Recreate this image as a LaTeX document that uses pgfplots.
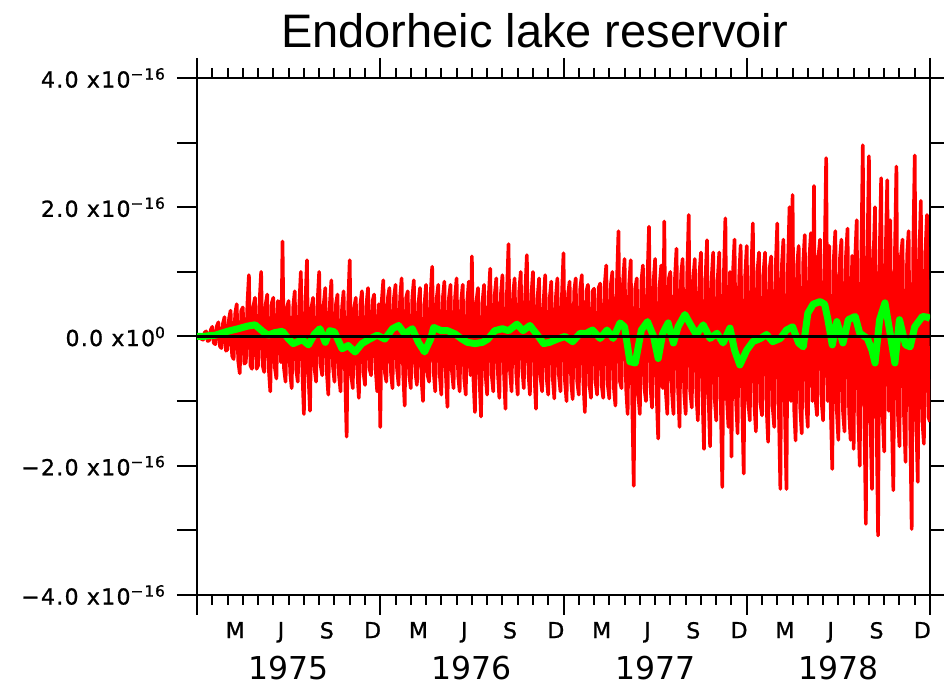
\documentclass[border=0pt]{standalone}
\usepackage{pgfplots}
\pgfplotsset{compat=1.18}
\usepackage{fontspec}
\setmainfont{Liberation Sans}
\newfontfamily\dejavu{DejaVu Sans}
\newfontfamily\dejavutick[LetterSpace=6,FakeBold=1]{DejaVu Sans}
\definecolor{pred}{RGB}{255,0,0}
\definecolor{pgreen}{RGB}{0,255,0}

\pgfplotstableread{
x y
0.0 0
0.1 -0.03
0.2 0.03
0.3 -0.04
0.4 -0.05
0.5 0.06
0.6 0.08
0.7 -0.07
0.8 -0.06
0.9 0.1
1.0 0.15
1.1 -0.1
1.2 -0.12
1.3 0.16
1.4 0.22
1.5 -0.15
1.6 -0.18
1.7 0.2
1.8 0.3
1.9 -0.22
2.0 -0.2
2.1 0.28
2.2 0.4
2.3 -0.3
2.4 -0.35
2.5 0.35
2.6 0.5
2.7 -0.38
2.8 -0.57
2.9 0.4
3.0 0.45
3.1 -0.42
3.2 -0.4
3.3 0.5
3.4 0.95
3.5 -0.45
3.6 -0.5
3.7 0.48
3.8 0.6
3.9 -0.5
4.0 -0.45
4.1 0.55
4.2 1.0
4.3 -0.45
4.4 -0.55
4.5 0.5
4.6 0.65
4.7 -0.5
4.8 -0.85
4.9 0.52
5.0 0.6
5.1 -0.48
5.2 -0.65
5.3 0.55
5.4 0.5
5.5 -0.4
5.6 1.47
5.7 -0.5
5.8 -0.7
5.9 0.45
6.0 0.55
6.1 -0.55
6.2 -0.8
6.3 0.45
6.4 0.7
6.5 -0.52
6.6 -0.7
6.7 0.5
6.8 1.0
6.9 -0.55
7.0 -1.2
7.1 0.5
7.2 1.18
7.3 -0.6
7.4 -1.15
7.5 0.45
7.6 0.6
7.7 -0.5
7.8 -0.7
7.9 0.55
8.0 1.0
8.1 -0.45
8.2 -0.6
8.3 0.5
8.4 0.75
8.5 -0.55
8.6 -0.9
8.7 0.5
8.8 0.87
8.9 -0.45
9.0 -0.7
9.1 0.5
9.2 0.65
9.3 -0.6
9.4 -0.85
9.5 0.45
9.6 0.7
9.7 -0.6
9.8 -1.55
9.9 0.5
10.0 1.18
10.1 -0.6
10.2 -0.8
10.3 0.45
10.4 0.6
10.5 -0.55
10.6 -0.95
10.7 0.5
10.8 0.7
10.9 -0.55
11.0 -0.75
11.1 0.5
11.2 0.75
11.3 -0.5
11.4 -0.6
11.5 0.55
11.6 0.65
11.7 -0.5
11.8 -0.85
11.9 0.5
12.0 -1.4
12.1 0.55
12.2 0.87
12.3 -0.55
12.4 -0.7
12.5 0.6
12.6 0.75
12.7 -0.55
12.8 -0.8
12.9 0.6
13.0 0.8
13.1 -0.5
13.2 -0.75
13.3 0.6
13.4 0.9
13.5 -0.55
13.6 -1.07
13.7 0.6
13.8 0.7
13.9 -0.6
14.0 -0.8
14.1 0.6
14.2 0.87
14.3 -0.55
14.4 -0.75
14.5 0.5
14.6 0.75
14.7 -0.65
14.8 -1.0
14.9 0.5
15.0 0.8
15.1 -0.6
15.2 -0.7
15.3 0.65
15.4 1.08
15.5 -0.55
15.6 -0.85
15.7 0.6
15.8 0.8
15.9 -0.6
16.0 -0.9
16.1 0.6
16.2 0.85
16.3 -0.6
16.4 -1.09
16.5 0.6
16.6 0.8
16.7 -0.55
16.8 -0.8
16.9 0.6
17.0 0.9
17.1 -0.6
17.2 -0.85
17.3 0.55
17.4 0.8
17.5 -0.65
17.6 -0.9
17.7 0.55
17.8 0.85
17.9 -0.6
18.0 1.24
18.1 -0.65
18.2 -1.17
18.3 0.55
18.4 0.75
18.5 -0.65
18.6 -1.24
18.7 0.55
18.8 0.8
18.9 -0.6
19.0 -0.9
19.1 0.6
19.2 1.05
19.3 -0.6
19.4 -0.85
19.5 0.65
19.6 0.9
19.7 -0.55
19.8 -0.95
19.9 0.65
20.0 0.95
20.1 -0.55
20.2 -1.12
20.3 0.7
20.4 1.43
20.5 -0.55
20.6 -0.85
20.7 0.65
20.8 0.9
20.9 -0.55
21.0 -0.9
21.1 0.7
21.2 1.0
21.3 -0.5
21.4 -0.8
21.5 0.7
21.6 1.26
21.7 -0.55
21.8 -0.9
21.9 0.65
22.0 1.0
22.1 -0.6
22.2 -1.12
22.3 0.6
22.4 0.9
22.5 -0.65
22.6 -0.85
22.7 0.55
22.8 0.95
22.9 -0.65
23.0 -0.9
23.1 0.6
23.2 0.85
23.3 -0.65
23.4 -0.96
23.5 0.6
23.6 0.9
23.7 -0.6
23.8 -0.85
23.9 0.65
24.0 1.29
24.1 -0.7
24.2 -1.0
24.3 0.65
24.4 0.85
24.5 -0.7
24.6 -0.97
24.7 0.7
24.8 0.9
24.9 -0.7
25.0 -0.9
25.1 0.75
25.2 0.95
25.3 -0.7
25.4 -1.17
25.5 0.7
25.6 0.8
25.7 -0.75
25.8 -0.95
25.9 0.7
26.0 0.74
26.1 -0.7
26.2 -0.9
26.3 0.75
26.4 0.82
26.5 -0.75
26.6 -0.95
26.7 0.8
26.8 1.1
26.9 -0.75
27.0 -0.96
27.1 0.8
27.2 1.0
27.3 -0.8
27.4 -1.07
27.5 0.85
27.6 1.63
27.7 -0.7
27.8 -0.8
27.9 0.85
28.0 1.2
28.1 -0.8
28.2 -1.2
28.3 0.8
28.4 1.18
28.5 -1.0
28.6 -2.31
28.7 0.75
28.8 0.9
28.9 -0.9
29.0 -1.2
29.1 0.85
29.2 1.1
29.3 -0.8
29.4 -1.0
29.5 0.9
29.6 1.7
29.7 -0.8
29.8 -1.1
29.9 0.85
30.0 1.2
30.1 -0.9
30.2 -1.58
30.3 0.8
30.4 1.1
30.5 -0.8
30.6 1.78
30.7 -0.85
30.8 -1.2
30.9 0.9
31.0 1.0
31.1 -0.85
31.2 -1.2
31.3 0.9
31.4 1.36
31.5 -0.8
31.6 -1.4
31.7 0.95
31.8 1.2
31.9 -0.85
32.0 -1.2
32.1 0.95
32.2 1.88
32.3 -0.85
32.4 -1.1
32.5 0.9
32.6 1.2
32.7 -0.9
32.8 -1.3
32.9 0.95
33.0 1.3
33.1 -0.9
33.2 -1.74
33.3 0.9
33.4 1.49
33.5 -0.95
33.6 -1.7
33.7 0.9
33.8 1.3
33.9 -0.95
34.0 -1.3
34.1 0.9
34.2 1.3
34.3 -1.0
34.4 -2.33
34.5 0.95
34.6 1.83
34.7 -0.95
34.8 -1.4
34.9 1.0
35.0 -1.86
35.1 1.0
35.2 1.5
35.3 -1.0
35.4 -1.5
35.5 0.9
35.6 1.41
35.7 -1.0
35.8 -2.12
35.9 0.95
36.0 1.4
36.1 -1.0
36.2 -1.3
36.3 1.0
36.4 1.75
36.5 -1.05
36.6 -1.47
36.7 1.0
36.8 1.3
36.9 -1.05
37.0 -1.22
37.1 1.0
37.2 1.3
37.3 -1.1
37.4 -1.63
37.5 1.05
37.6 1.24
37.7 -1.1
37.8 -1.4
37.9 1.1
38.0 1.75
38.1 -1.1
38.2 -2.36
38.3 1.1
38.4 1.5
38.5 -1.15
38.6 -2.36
38.7 1.1
38.8 2.0
38.9 -1.0
39.0 2.19
39.1 -1.1
39.2 -1.61
39.3 1.1
39.4 1.4
39.5 -1.1
39.6 -1.5
39.7 1.15
39.8 1.57
39.9 -1.05
40.0 -1.4
40.1 1.2
40.2 1.6
40.3 -1.0
40.4 2.33
40.5 -0.95
40.6 -1.22
40.7 1.25
40.8 1.5
40.9 -1.0
41.0 -1.3
41.1 1.2
41.2 2.76
41.3 -1.0
41.4 1.4
41.5 -1.1
41.6 -2.05
41.7 1.2
41.8 1.63
41.9 -1.15
42.0 -1.6
42.1 1.2
42.2 1.5
42.3 -1.15
42.4 -1.47
42.5 1.25
42.6 1.67
42.7 -1.15
42.8 -1.6
42.9 1.25
43.0 -1.74
43.1 1.2
43.2 1.8
43.3 -1.2
43.4 -2.0
43.5 1.2
43.6 2.96
43.7 -1.2
43.8 -2.9
43.9 1.25
44.0 2.79
44.1 -1.3
44.2 -2.36
44.3 1.2
44.4 2.0
44.5 -1.3
44.6 -3.08
44.7 1.2
44.8 2.45
44.9 -1.2
45.0 -1.78
45.1 1.3
45.2 2.42
45.3 -1.15
45.4 1.8
45.5 -1.3
45.6 -2.38
45.7 1.25
45.8 2.63
45.9 -1.2
46.0 -1.7
46.1 1.25
46.2 1.5
46.3 -1.25
46.4 -1.94
46.5 1.25
46.6 1.63
46.7 -1.3
46.8 -2.98
46.9 1.3
47.0 2.8
47.1 -1.3
47.2 -2.25
47.3 1.25
47.4 2.1
47.5 -1.3
47.6 -1.66
47.7 1.3
47.8 1.88
47.9 -1.25
48.0 -1.32
}\reddata

\pgfplotstableread{
x y
0 0
0.4 0
0.7 0.01
1.2 0.02
2.0 0.08
2.7 0.12
3.3 0.16
3.8 0.18
4.3 0.08
4.65 0.02
5.1 0.06
5.6 0.08
6.0 -0.04
6.3 -0.11
6.9 -0.05
7.3 -0.13
7.7 0.04
8.05 0.12
8.4 -0.09
8.7 0.09
9.0 0.07
9.5 -0.19
9.9 -0.14
10.35 -0.24
10.8 -0.11
11.3 -0.04
11.8 0.02
12.3 -0.04
12.8 0.12
13.2 0.17
13.6 0.04
14.1 0.12
14.5 -0.09
14.9 -0.24
15.3 -0.04
15.5 0.14
16.0 0.09
16.4 0.09
16.9 0.04
17.35 -0.04
17.7 -0.09
18.2 -0.11
18.7 -0.09
19.05 -0.04
19.5 0.09
20.0 0.12
20.4 0.09
20.95 0.19
21.35 0.09
21.8 0.17
22.3 0.02
22.7 -0.11
23.1 -0.09
23.6 -0.04
24.1 0.0
24.6 -0.08
25.1 0.05
25.5 0.05
25.9 0.1
26.4 -0.03
26.85 0.1
27.25 -0.03
27.7 0.21
28.0 0.15
28.35 -0.39
28.7 -0.41
29.1 0.1
29.5 0.23
29.9 0
30.2 -0.34
30.5 0.05
30.85 0.21
31.2 -0.1
31.5 0.15
31.95 0.34
32.4 0.15
32.7 0.03
33.15 0.18
33.6 -0.03
34.05 0.05
34.45 -0.1
34.9 0.13
35.2 -0.21
35.55 -0.44
36.0 -0.21
36.4 -0.08
36.9 -0.03
37.3 0.03
37.7 -0.08
38.2 -0.03
38.6 0.1
39.0 0.15
39.4 -0.1
39.7 -0.16
40.0 0.36
40.35 0.5
40.8 0.54
41.1 0.5
41.3 0.28
41.6 -0.13
41.9 0.23
42.3 -0.1
42.65 0.26
43.1 0.31
43.4 0.05
43.9 -0.03
44.2 -0.21
44.4 -0.41
44.7 0.26
45.05 0.52
45.4 0.03
45.7 -0.41
46.0 0.26
46.4 -0.13
46.7 -0.16
47.0 0.15
47.5 0.31
47.8 0.3
48.0 0.28
}\greendata

\begin{document}
\begin{tikzpicture}
\begin{axis}[
  name=ax,
  at={(0,0)}, anchor=south west,
  scale only axis,
  width=366.5pt, height=258.5pt,
  xmin=0, xmax=48, ymin=-4, ymax=4,
  clip mode=individual,
  axis line style={line width=1.2pt, black},
  tick align=outside,
  tick style={line width=1pt, black},
  major tick length=10pt,
  minor tick length=5pt,
  xtick={0,12,24,36,48},
  xticklabels={,,,,},
  minor x tick num=11,
  extra x ticks={2.5,5.5,8.5,11.5,14.5,17.5,20.5,23.5,26.5,29.5,32.5,35.5,38.5,41.5,44.5,47.5},
  extra x tick labels={M,J,S,D,M,J,S,D,M,J,S,D,M,J,S,D},
  extra x tick style={tick style={draw=none}},
  ytick={-4,-3,-2,-1,0,1,2,3,4},
  yticklabels={{−4.0 x10\textsuperscript{−16}},{},{−2.0 x10\textsuperscript{−16}},{},{0.0 x10\textsuperscript{0}},{},{2.0 x10\textsuperscript{−16}},{},{4.0 x10\textsuperscript{−16}}},
  tick label style={font=\dejavutick\fontsize{11}{13}\selectfont},
  yticklabel style={xshift=-2pt},
]
\addplot[pred, line width=1.8pt, line join=round] table[x=x,y=y]{\reddata};
\addplot[pgreen, line width=3.5pt, line join=round] table[x=x,y=y]{\greendata};
\addplot[black, line width=1.6pt] coordinates {(0,0) (48,0)};
\node[anchor=base, font=\dejavu\fontsize{15.75}{18}\selectfont] at (axis cs:6,-4) [yshift=-42.5pt] {1975};
\node[anchor=base, font=\dejavu\fontsize{15.75}{18}\selectfont] at (axis cs:18,-4) [yshift=-42.5pt] {1976};
\node[anchor=base, font=\dejavu\fontsize{15.75}{18}\selectfont] at (axis cs:30,-4) [yshift=-42.5pt] {1977};
\node[anchor=base, font=\dejavu\fontsize{15.75}{18}\selectfont] at (axis cs:42,-4) [yshift=-42.5pt] {1978};
\node[anchor=base, font=\fontsize{23.5}{27}\selectfont] at (axis cs:22.1,4) [yshift=15pt] {Endorheic lake reservoir};
\end{axis}
\pgfresetboundingbox
\path[use as bounding box] ([shift={(-98.5pt,-46pt)}]ax.south west) rectangle ([shift={(7pt,39pt)}]ax.north east);
\end{tikzpicture}
\end{document}
